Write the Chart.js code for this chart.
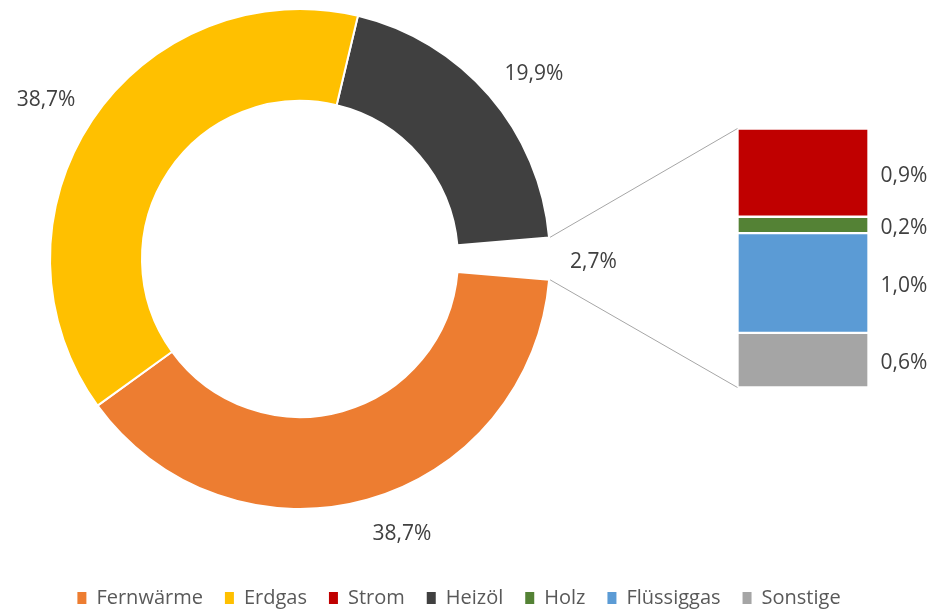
<!DOCTYPE html>
<html><head><meta charset="utf-8">
<script src="https://cdn.jsdelivr.net/npm/chart.js@4.4.1/dist/chart.umd.min.js"></script>
<style>
html,body{margin:0;padding:0;background:#fff;}
#wrap{position:relative;width:936px;height:609px;overflow:hidden;}
#pie{position:absolute;left:0;top:0;}
#bar{position:absolute;left:720px;top:110px;}
</style></head><body>
<div id="wrap"><canvas id="pie" width="936" height="609"></canvas><canvas id="bar" width="216" height="300"></canvas></div>
<script>
// ---- data ----
const mainCategories = ['Heizöl', 'Fernwärme', 'Erdgas'];
const mainValues = [19.9, 38.7, 38.7];
const detailCategories = ['Strom', 'Holz', 'Flüssiggas', 'Sonstige']; // top to bottom
const detailValues = [0.92, 0.17, 1.04, 0.57];
const legendCategories = ['Fernwärme', 'Erdgas', 'Strom', 'Heizöl', 'Holz', 'Flüssiggas', 'Sonstige'];

// ---- styles ----
const colors = {
  'Fernwärme': '#ED7D31', 'Erdgas': '#FFC000', 'Strom': '#C00000', 'Heizöl': '#404040',
  'Holz': '#548235', 'Flüssiggas': '#5B9BD5', 'Sonstige': '#A5A5A5'
};
const FONT = '"Open Sans", "Liberation Sans", sans-serif';
const fmt = v => v.toFixed(1).replace('.', ',') + '%';
const TEXT_DY = 3;

const detailTotal = detailValues.reduce((a, b) => a + b, 0);
// ring: Heizöl, (detail group), Fernwärme, Erdgas
const ringLabels = [mainCategories[0], 'Übrige', mainCategories[1], mainCategories[2]];
const ringValues = [mainValues[0], detailTotal, mainValues[1], mainValues[2]];
const ringColors = ringLabels.map(n => colors[n] || 'rgba(0,0,0,0)');
const ringBorders = ringLabels.map(n => colors[n] ? 2 : 0);

// ---- bar of pie ----
const barLabelPlugin = {
  id: 'barLabels',
  afterDatasetsDraw(chart) {
    const ctx = chart.ctx;
    ctx.save();
    ctx.font = '21px ' + FONT;
    ctx.fillStyle = '#404040';
    ctx.textAlign = 'left';
    ctx.textBaseline = 'middle';
    chart.data.datasets.forEach((ds, i) => {
      const el = chart.getDatasetMeta(i).data[0];
      ctx.fillText(fmt(ds.data[0]), el.x + el.width / 2 + 12, (el.y + el.base) / 2 + TEXT_DY);
    });
    ctx.restore();
  }
};

const barDatasets = detailCategories.map((name, i) => ({
  label: name,
  data: [detailValues[i]],
  backgroundColor: colors[name],
  borderColor: '#ffffff',
  borderWidth: 1.5,
  borderSkipped: false,
  barPercentage: 1,
  categoryPercentage: 1
})).reverse();

const barChart = new Chart(document.getElementById('bar'), {
  type: 'bar',
  data: { labels: [''], datasets: barDatasets },
  options: {
    responsive: false, animation: false, events: [],
    layout: { padding: { left: 17.5, right: 67.5, top: 18.5, bottom: 22.5 } },
    scales: {
      x: { display: false, stacked: true },
      y: { display: false, stacked: true, min: 0, max: detailTotal }
    },
    plugins: { legend: { display: false }, tooltip: { enabled: false } }
  },
  plugins: [barLabelPlugin]
});

// ---- doughnut ----
const layoutPlugin = {
  id: 'placeRing',
  afterLayout(chart) {
    chart.chartArea = { left: 49, top: 8, right: 551, bottom: 510, width: 502, height: 502 };
    const lg = chart.legend;
    const pad = lg.options.labels.padding;
    const itemH = Math.max(lg.options.labels.boxHeight, lg.options.labels.font.size * 1.2);
    const targetCenter = chart.height - 9;
    const shift = targetCenter - (lg.top + pad + itemH / 2);
    lg.top += shift; lg.bottom += shift;
  }
};

const ringLabelPlugin = {
  id: 'ringLabels',
  afterDatasetsDraw(chart) {
    const ctx = chart.ctx;
    const meta = chart.getDatasetMeta(0);
    ctx.save();
    // connector lines to the bar
    const gap = meta.data[1];
    const bm = barChart.getDatasetMeta(barChart.data.datasets.length - 1).data[0];
    const bb = barChart.getDatasetMeta(0).data[0];
    const off = barChart.canvas.getBoundingClientRect();
    const base = chart.canvas.getBoundingClientRect();
    const ox = off.left - base.left, oy = off.top - base.top;
    const r0 = gap.outerRadius + 1;
    ctx.strokeStyle = '#A6A6A6';
    ctx.lineWidth = 1;
    ctx.beginPath();
    ctx.moveTo(gap.x + r0 * Math.cos(gap.startAngle), gap.y + r0 * Math.sin(gap.startAngle));
    ctx.lineTo(ox + bm.x - bm.width / 2, oy + bm.y);
    ctx.moveTo(gap.x + r0 * Math.cos(gap.endAngle), gap.y + r0 * Math.sin(gap.endAngle));
    ctx.lineTo(ox + bb.x - bb.width / 2, oy + bb.base);
    ctx.stroke();

    // value labels outside the ring
    ctx.font = '21px ' + FONT;
    ctx.fillStyle = '#404040';
    ctx.textAlign = 'center';
    ctx.textBaseline = 'middle';
    meta.data.forEach((arc, i) => {
      const mid = (arc.startAngle + arc.endAngle) / 2;
      const c = Math.cos(mid), s = Math.sin(mid);
      const rr = arc.outerRadius + 20;
      const ax = arc.x + rr * c, ay = arc.y + rr * s;
      const text = fmt(chart.data.datasets[0].data[i]);
      const w = ctx.measureText(text).width, h = 24;
      const sx = Math.abs(c) < 0.26 ? 0 : Math.sign(c);
      const sy = Math.abs(s) < 0.26 ? 0 : Math.sign(s);
      ctx.fillText(text, ax + sx * w / 2, ay + sy * h / 2 + TEXT_DY);
    });
    ctx.restore();
  }
};

new Chart(document.getElementById('pie'), {
  type: 'doughnut',
  data: {
    labels: ringLabels,
    datasets: [{
      data: ringValues,
      backgroundColor: ringColors,
      borderColor: '#ffffff',
      borderWidth: ringBorders,
      hoverOffset: 0,
      clip: false
    }]
  },
  options: {
    responsive: false, animation: false, events: [],
    rotation: 13.4,
    cutout: '63.2%',
    layout: { padding: { right: 18 } },
    plugins: {
      tooltip: { enabled: false },
      legend: {
        position: 'bottom',
        labels: {
          boxWidth: 9, boxHeight: 12, padding: 22,
          color: '#595959',
          font: { family: FONT, size: 20 },
          generateLabels: () => legendCategories.map(name => ({
            text: name, fillStyle: colors[name], strokeStyle: colors[name],
            lineWidth: 0, hidden: false, fontColor: '#595959'
          }))
        }
      }
    }
  },
  plugins: [layoutPlugin, ringLabelPlugin]
});
</script>
</body></html>
